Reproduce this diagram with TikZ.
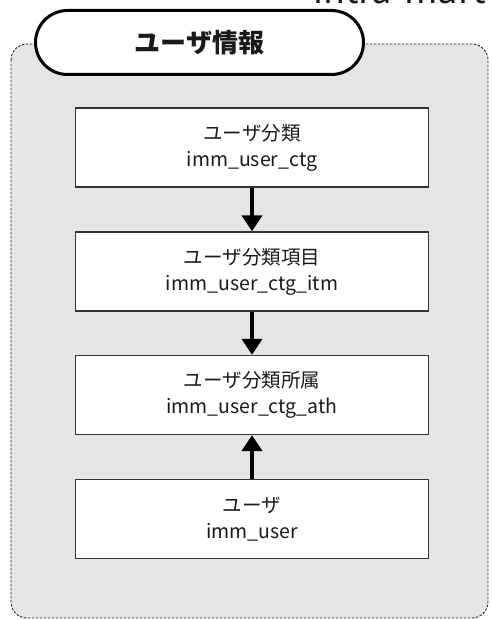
\documentclass[tikz,border=0pt]{standalone}
\usepackage{fontspec}
\setmainfont{Noto Sans CJK JP}
\usetikzlibrary{arrows.meta}
\definecolor{panelgray}{HTML}{E5E5E5}
\definecolor{txt}{HTML}{1A1A1A}
\begin{document}
\begin{tikzpicture}[x=1pt,y=-1pt,
  tablebox/.style={draw=black!80,line width=1.4pt,fill=white,minimum width=353pt,minimum height=79pt,inner sep=0pt,
    text=txt,font=\fontsize{19.5}{26}\selectfont,align=center},
  flow/.style={line width=4.5pt,-{Triangle[width=20pt,length=16pt]}}]
\useasboundingbox (0,0) rectangle (491,620);
% top partly visible label
\node[anchor=base west,inner sep=0pt,font=\fontsize{36}{36}\selectfont,text=txt] (brand) at (313,3.5) {intra-mart};
% panel
\draw[dash pattern=on 2.5pt off 1.5pt,line width=0.9pt,draw=black!85,fill=panelgray,rounded corners=16pt] (11,44) rectangle (488,618);
% title pill
\node[draw=black,line width=3pt,fill=white,rounded corners=32pt,minimum width=328pt,minimum height=64pt,inner sep=0pt,
  font=\fontsize{26}{26}\bfseries\selectfont,text=txt] (title) at (199.5,42.5) {ユーザ情報};
% boxes
\node[tablebox] (ctg) at (252,147.5) {ユーザ分類\\imm\_user\_ctg};
\node[tablebox] (itm) at (252,271.5) {ユーザ分類項目\\imm\_user\_ctg\_itm};
\node[tablebox] (ath) at (252,395) {ユーザ分類所属\\imm\_user\_ctg\_ath};
\node[tablebox] (usr) at (252,519) {ユーザ\\imm\_user};
% connectors
\draw[flow] (ctg.south) -- (itm.north);
\draw[flow] (itm.south) -- (ath.north);
\draw[flow] (usr.north) -- (ath.south);
\end{tikzpicture}
\end{document}
